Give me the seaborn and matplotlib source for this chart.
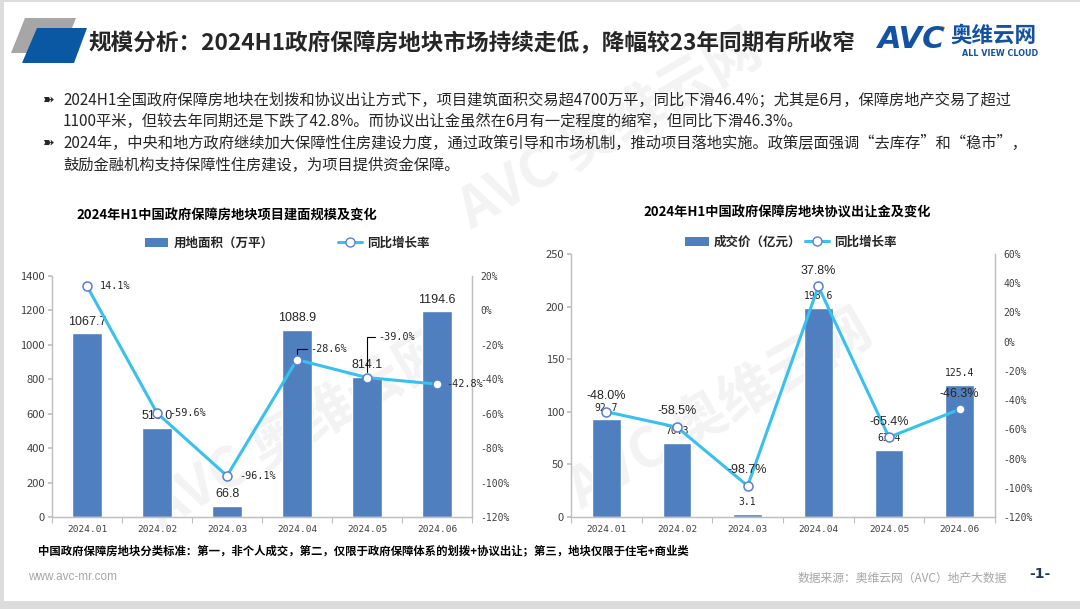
import numpy as np
import pandas as pd
import seaborn as sns
import matplotlib.pyplot as plt
from matplotlib.patches import Polygon, Rectangle, Patch, Circle
from matplotlib.lines import Line2D
from matplotlib.ticker import FuncFormatter

# data
months = ["2024.01", "2024.02", "2024.03", "2024.04", "2024.05", "2024.06"]
area = [1067.7, 519.0, 66.8, 1088.9, 814.1, 1194.6]
area_yoy = [14.1, -59.6, -96.1, -28.6, -39.0, -42.8]
price = [92.7, 70.3, 3.1, 198.6, 63.4, 125.4]
price_yoy = [-48.0, -58.5, -98.7, 37.8, -65.4, -46.3]

title = "规模分析：2024H1政府保障房地块市场持续走低，降幅较23年同期有所收窄"
bullets = [
    ["2024H1全国政府保障房地块在划拨和协议出让方式下，项目建筑面积交易超4700万平，同比下滑46.4%；尤其是6月，保障房地产交易了超过",
     "1100平米，但较去年同期还是下跌了42.8%。而协议出让金虽然在6月有一定程度的缩窄，但同比下滑46.3%。"],
    ["2024年，中央和地方政府继续加大保障性住房建设力度，通过政策引导和市场机制，推动项目落地实施。政策层面强调“去库存”和“稳市”，",
     "鼓励金融机构支持保障性住房建设，为项目提供资金保障。"],
]
left_title = "2024年H1中国政府保障房地块项目建面规模及变化"
right_title = "2024年H1中国政府保障房地块协议出让金及变化"
note = "中国政府保障房地块分类标准：第一，非个人成交，第二，仅限于政府保障体系的划拨+协议出让；第三，地块仅限于住宅+商业类"

bar_color = "#4F7FBE"
line_color = "#38C0EE"
edge_color = "#5A7FD0"
W, H = 1080, 609

sns.set_theme(style="white")
plt.rcParams["font.family"] = ["Noto Sans CJK SC", "DejaVu Sans"]
plt.rcParams["axes.unicode_minus"] = False

fig = plt.figure(figsize=(W / 100, H / 100), dpi=100, facecolor="#DCDCDC")


def fx(x):
    return x / W


def fy(y):
    return 1 - y / H


# page
fig.patches.append(Rectangle((fx(4), fy(601)), fx(1076), 599 / H, transform=fig.transFigure,
                             facecolor="white", edgecolor="none", zorder=-10))

# watermarks
for (wx, wy) in [(300, 430), (720, 410), (610, 130)]:
    fig.text(fx(wx), fy(wy), "AVC 奥维云网", rotation=30, fontsize=40, fontweight="bold",
             color="#9E9E9E", alpha=0.12, ha="center", va="center", zorder=-5)

# header
fig.patches.append(Polygon([(fx(25), fy(18)), (fx(76), fy(18)), (fx(62), fy(53)), (fx(11), fy(53))],
                           closed=True, transform=fig.transFigure, facecolor="#A6A6A6", edgecolor="none"))
fig.patches.append(Polygon([(fx(37), fy(28)), (fx(87), fy(28)), (fx(74), fy(63)), (fx(22), fy(63))],
                           closed=True, transform=fig.transFigure, facecolor="#0A57A4", edgecolor="none"))
fig.text(fx(88), fy(44), title, fontsize=16.3, fontweight="bold", color="#262626", ha="left", va="center")

# logo
fig.text(fx(878), fy(40), "AVC", fontsize=22, fontweight="bold", fontstyle="italic",
         family="DejaVu Sans", color="#1352A2", ha="left", va="center")
fig.patches.append(Circle((fx(942), fy(28)), 3 / W, transform=fig.transFigure, facecolor="#F39A1E", edgecolor="none"))
fig.text(fx(950), fy(35), "奥维云网", fontsize=15.5, fontweight="bold", color="#1352A2", ha="left", va="center")
fig.text(fx(962), fy(53), "ALL VIEW CLOUD", fontsize=5.8, fontweight="bold", color="#1352A2",
         family="DejaVu Sans", ha="left", va="center")

# bullets
ys = [[100, 121], [143, 165]]
for lines, yy in zip(bullets, ys):
    fig.text(fx(43), fy(yy[0]), "➽", fontsize=10, fontweight="bold", color="#262626", family=["DejaVu Sans"],
             ha="left", va="center")
    for t, y in zip(lines, yy):
        fig.text(fx(63), fy(y), t, fontsize=11, color="#262626", ha="left", va="center")

# footer
fig.text(fx(38), fy(551), note, fontsize=8.2, fontweight="bold", color="#000000", ha="left", va="center")
fig.text(fx(28), fy(577), "www.avc-mr.com", fontsize=8.5, color="#A6A6A6", ha="left", va="center",
         family=["Liberation Sans"])
fig.text(fx(1007), fy(578), "数据来源：奥维云网（AVC）地产大数据", fontsize=8.5, color="#A6A6A6",
         ha="right", va="center")
fig.text(fx(1040), fy(574), "-1-", fontsize=10, fontweight="bold", color="#1F3864", ha="center", va="center",
         family=["DejaVu Sans"])


def style_axes(ax, ax2, ymax, ystep, y2min, y2max):
    ax.set_ylim(0, ymax)
    ax.set_yticks(np.arange(0, ymax + 1, ystep))
    ax2.set_ylim(y2min, y2max)
    ax2.set_yticks(np.arange(y2min, y2max + 1, 20))
    ax2.yaxis.set_major_formatter(FuncFormatter(lambda v, p: f"{v:.0f}%"))
    ax.set_xlim(-0.5, 5.5)
    ax.set_xticks(range(6))
    ax.set_xticklabels(months, fontsize=6.8, family="DejaVu Sans Mono", color="#404040")
    ax.set_xticks(np.arange(-0.5, 6, 1), minor=True)
    ax.tick_params(axis="x", which="major", length=0, pad=6)
    ax.tick_params(axis="x", which="minor", length=4, color="#BFBFBF", width=0.8, bottom=True)
    ax.tick_params(axis="y", length=3, color="#BFBFBF", labelsize=8, labelcolor="#404040", left=True, pad=2)
    ax2.tick_params(axis="y", length=0, labelsize=7, labelcolor="#404040", pad=6)
    for lab in ax2.get_yticklabels():
        lab.set_family("DejaVu Sans Mono")
    for a in (ax, ax2):
        a.set_xlabel("")
        a.set_ylabel("")
        a.grid(False)
        a.spines["top"].set_visible(False)
        for s in ("left", "bottom", "right"):
            a.spines[s].set_color("#BFBFBF")
            a.spines[s].set_linewidth(0.9)
    ax.patch.set_visible(False)


def draw_panel(rect, values, yoy, ymax, ystep, y2min, y2max, width):
    ax = fig.add_axes(rect)
    sns.barplot(x=months, y=values, ax=ax, color=bar_color, saturation=1, width=width)
    ax2 = ax.twinx()
    sns.pointplot(x=months, y=yoy, ax=ax2, color=line_color, errorbar=None, markers="o",
                  linewidth=2.2, markersize=6.5, markerfacecolor="white",
                  markeredgecolor=edge_color, markeredgewidth=1.1)
    style_axes(ax, ax2, ymax, ystep, y2min, y2max)
    return ax, ax2


# left panel
axL, axL2 = draw_panel([fx(52), fy(517), 420 / W, 241 / H], area, area_yoy, 1400, 200, -120, 20, 0.42)
axL.bar_label(axL.containers[0], fmt="%.1f", padding=4, fontsize=9, family="Liberation Sans", color="#262626")
for i, v in enumerate(area_yoy):
    txt = f"{v:.1f}%"
    if i == 3:
        axL2.annotate(txt, xy=(i, v), xytext=(9.5, 7.5), textcoords="offset points", ha="left", va="center",
                      fontsize=7.3, family="DejaVu Sans Mono", color="#262626",
                      arrowprops=dict(arrowstyle="-", color="black", lw=0.8, shrinkA=0, shrinkB=4,
                                      connectionstyle="angle,angleA=180,angleB=90,rad=0"))
    elif i == 4:
        axL2.annotate(txt, xy=(i, v), xytext=(8, 29), textcoords="offset points", ha="left", va="center",
                      fontsize=7.3, family="DejaVu Sans Mono", color="#262626",
                      arrowprops=dict(arrowstyle="-", color="black", lw=0.8, shrinkA=0, shrinkB=4,
                                      connectionstyle="angle,angleA=180,angleB=90,rad=0"))
    else:
        dx = 6.5 if i == 5 else 9
        axL2.annotate(txt, xy=(i, v), xytext=(dx, 0), textcoords="offset points", ha="left", va="center",
                      fontsize=7.3, family="DejaVu Sans Mono", color="#262626")

fig.text(fx(227), fy(216), left_title, fontsize=9.5, fontweight="bold", color="#000000", ha="center", va="center")
fig.legend(handles=[Patch(facecolor=bar_color, edgecolor="none"),
                    Line2D([], [], color=line_color, lw=2.2, marker="o", markersize=6.5,
                           markerfacecolor="white", markeredgecolor=edge_color)],
           labels=["用地面积（万平）", "同比增长率"], loc="center", bbox_to_anchor=(fx(287), fy(243)),
           ncol=2, frameon=False, prop=dict(size=9, weight="bold"), handlelength=1.9, handleheight=0.7,
           columnspacing=5.2, handletextpad=0.4)

# right panel
axR, axR2 = draw_panel([fx(571), fy(517), 424 / W, 263 / H], price, price_yoy, 250, 50, -120, 60, 0.41)
axR.bar_label(axR.containers[0], fmt="%.1f", padding=5, fontsize=7, family="DejaVu Sans Mono", color="#262626")
for i, v in enumerate(price_yoy):
    axR2.annotate(f"{v:.1f}%", xy=(i, v), xytext=(0, 7), textcoords="offset points", ha="center", va="bottom",
                  fontsize=9, family="Liberation Sans", color="#262626")

fig.text(fx(787), fy(213), right_title, fontsize=9.5, fontweight="bold", color="#000000", ha="center", va="center")
fig.legend(handles=[Patch(facecolor=bar_color, edgecolor="none"),
                    Line2D([], [], color=line_color, lw=2.2, marker="o", markersize=6.5,
                           markerfacecolor="white", markeredgecolor=edge_color)],
           labels=["成交价（亿元）", "同比增长率"], loc="center", bbox_to_anchor=(fx(791), fy(242)),
           ncol=2, frameon=False, prop=dict(size=9, weight="bold"), handlelength=1.9, handleheight=0.7,
           columnspacing=0.3, handletextpad=0.4)

fig.savefig("out.png", dpi=100, facecolor=fig.get_facecolor())
